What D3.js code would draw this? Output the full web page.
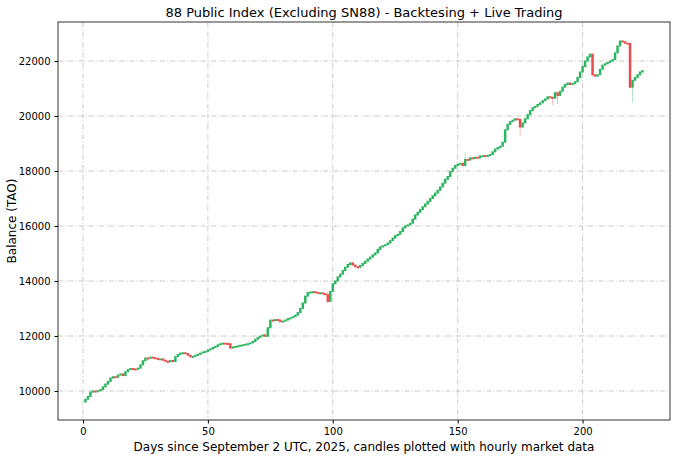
<!DOCTYPE html>
<html>
<head>
<meta charset="utf-8">
<script src="https://cdn.jsdelivr.net/npm/d3@7"></script>
<style>
  body { margin: 0; background: #fff; }
  svg text { font-family: "DejaVu Sans", sans-serif; fill: #000; }
</style>
</head>
<body>
<div id="chart"></div>
<script>
// daily closes, day 1 .. 224 (open of a day = close of the day before)
const firstOpen = 9600;
const closes = [
  9700, 9800, 9960, 10000, 9990, 10010, 10050, 10150, 10250, 10350,
  10470, 10520, 10500, 10580, 10620, 10560, 10700, 10780, 10820, 10800,
  10790, 10830, 10950, 11100, 11200, 11190, 11230, 11210, 11180, 11150,
  11170, 11120, 11080, 11060, 11110, 11070, 11250, 11330, 11380, 11390,
  11360, 11300, 11240, 11260, 11300, 11330, 11380, 11420, 11440, 11490,
  11530, 11580, 11620, 11680, 11720, 11740, 11730, 11720, 11560, 11600,
  11620, 11640, 11660, 11680, 11700, 11720, 11750, 11800, 11880, 11950,
  12000, 12040, 11990, 12300, 12580, 12560, 12600, 12580, 12520, 12540,
  12580, 12630, 12660, 12700, 12760, 12850, 13000, 13200, 13450, 13580,
  13600, 13610, 13590, 13560, 13570, 13540, 13500, 13260, 13620, 13900,
  14000, 14150, 14250, 14380, 14500, 14600, 14660, 14580, 14520, 14500,
  14560, 14640, 14720, 14800, 14870, 14950, 15020, 15150, 15240, 15280,
  15320, 15380, 15470, 15560, 15650, 15700, 15800, 15930, 16000, 16040,
  16100, 16250, 16400, 16500, 16600, 16700, 16800, 16900, 17000, 17100,
  17200, 17300, 17420, 17560, 17700, 17800, 17980, 18100, 18200, 18250,
  18280, 18200, 18420, 18400, 18480, 18450, 18500, 18480, 18550, 18560,
  18540, 18570, 18600, 18700, 18800, 18850, 18900, 19050, 19500, 19700,
  19800, 19850, 19900, 19880, 19600, 19750, 19900, 20050, 20200, 20300,
  20350, 20420, 20480, 20560, 20620, 20700, 20680, 20650, 20850, 20750,
  20900, 21050, 21150, 21200, 21150, 21180, 21250, 21400, 21600, 21800,
  22000, 22150, 22250, 21500, 21450, 21500, 21700, 21850, 21900, 21950,
  22000, 22050, 22300, 22550, 22730, 22700, 22650, 22640, 21050, 21300,
  21400, 21500, 21600, 21650
];

// hourly extremes that stick out past the candle body
const wickDays = [98, 153, 175, 188, 190, 204, 219, 220];
const wickHighs = [13620, 18700, 19900, 20700, 20850, 22250, 22640, 21300];
const wickLows = [13200, 18200, 19300, 20400, 20450, 21450, 21000, 20500];

const xTicks = [0, 50, 100, 150, 200];
const yTicks = [10000, 12000, 14000, 16000, 18000, 20000, 22000];

const candles = closes.map((c, i) => {
  const day = i + 1;
  const open = i === 0 ? firstOpen : closes[i - 1];
  let high = Math.max(open, c);
  let low = Math.min(open, c);
  const w = wickDays.indexOf(day);
  if (w >= 0) {
    high = Math.max(high, wickHighs[w]);
    low = Math.min(low, wickLows[w]);
  }
  return { day, open, close: c, high, low };
});

const width = 680;
const height = 460;
const margin = { top: 22, right: 10, bottom: 40, left: 58 };

const svg = d3.select('#chart').append('svg')
  .attr('width', width)
  .attr('height', height);

const x = d3.scaleLinear()
  .domain([-10, 235])
  .range([margin.left, width - margin.right]);

const y = d3.scaleLinear()
  .domain([8945, 23420])
  .range([height - margin.bottom, margin.top]);

// grid, dash-dot like matplotlib '-.'
const gridDash = '5,2,1.2,2';

svg.append('g')
  .selectAll('line')
  .data(xTicks)
  .enter()
  .append('line')
  .attr('x1', (d) => x(d)).attr('x2', (d) => x(d))
  .attr('y1', margin.top).attr('y2', height - margin.bottom)
  .attr('stroke', '#bdbdbd')
  .attr('stroke-width', 0.8)
  .attr('stroke-dasharray', gridDash);

svg.append('g')
  .selectAll('line')
  .data(yTicks)
  .enter()
  .append('line')
  .attr('x1', margin.left).attr('x2', width - margin.right)
  .attr('y1', (d) => y(d)).attr('y2', (d) => y(d))
  .attr('stroke', '#bdbdbd')
  .attr('stroke-width', 0.8)
  .attr('stroke-dasharray', gridDash);

// candles
const bw = (x(1) - x(0)) * 1.0;
const g = svg.append('g');

g.selectAll('line.wick')
  .data(candles)
  .enter()
  .append('line')
  .attr('class', 'wick')
  .attr('x1', (d) => x(d.day)).attr('x2', (d) => x(d.day))
  .attr('y1', (d) => y(d.high)).attr('y2', (d) => y(d.low))
  .attr('stroke', (d) => (d.close >= d.open ? '#9fdcb5' : '#f2a3a0'))
  .attr('stroke-width', 0.8);

g.selectAll('rect')
  .data(candles)
  .enter()
  .append('rect')
  .attr('x', (d) => x(d.day) - bw / 2)
  .attr('width', bw)
  .attr('y', (d) => Math.min(y(d.open), y(d.close)) - 0.5)
  .attr('height', (d) => Math.max(2, Math.abs(y(d.open) - y(d.close)) + 1))
  .attr('fill', (d) => (d.close >= d.open ? '#2bb55f' : '#ec4b4b'));

// axes
const xAxis = d3.axisBottom(x).tickValues(xTicks).tickSize(3.5).tickPadding(4);
const yAxis = d3.axisLeft(y).tickValues(yTicks).tickFormat(d3.format('d'))
  .tickSize(3.5).tickPadding(4);

svg.append('g')
  .attr('transform', `translate(0,${height - margin.bottom})`)
  .call(xAxis)
  .call((s) => s.select('.domain').remove())
  .selectAll('text').style('font-size', '10px');

svg.append('g')
  .attr('transform', `translate(${margin.left},0)`)
  .call(yAxis)
  .call((s) => s.select('.domain').remove())
  .selectAll('text').style('font-size', '10px');

svg.append('rect')
  .attr('x', margin.left).attr('y', margin.top)
  .attr('width', width - margin.left - margin.right)
  .attr('height', height - margin.top - margin.bottom)
  .attr('fill', 'none')
  .attr('stroke', '#000')
  .attr('stroke-width', 0.8);

// labels
svg.append('text')
  .attr('x', (margin.left + width - margin.right) / 2)
  .attr('y', 17)
  .attr('text-anchor', 'middle')
  .style('font-size', '13px')
  .text('88 Public Index (Excluding SN88) - Backtesing + Live Trading');

svg.append('text')
  .attr('x', (margin.left + width - margin.right) / 2)
  .attr('y', 451)
  .attr('text-anchor', 'middle')
  .style('font-size', '12px')
  .text('Days since September 2 UTC, 2025, candles plotted with hourly market data');

svg.append('text')
  .attr('transform', 'rotate(-90)')
  .attr('x', -(margin.top + height - margin.bottom) / 2)
  .attr('y', 16)
  .attr('text-anchor', 'middle')
  .style('font-size', '12px')
  .text('Balance (TAO)');
</script>
</body>
</html>
